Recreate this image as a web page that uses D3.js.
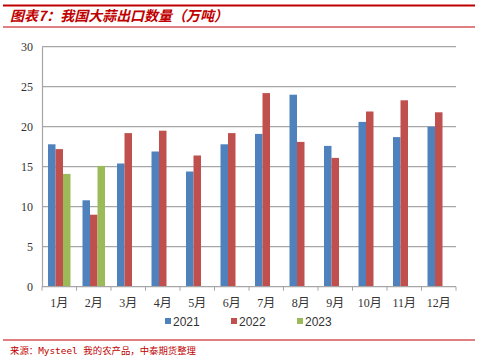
<!DOCTYPE html>
<html><head><meta charset="utf-8">
<script src="https://cdn.jsdelivr.net/npm/d3@7"></script>
<style>body{margin:0;background:#fff}svg{display:block}</style>
</head><body>
<svg id="c" width="486" height="359"></svg>
<script>
const categories = ["1月","2月","3月","4月","5月","6月","7月","8月","9月","10月","11月","12月"];
const seriesNames = ["2021","2022","2023"];
const values2021 = [17.8,10.8,15.4,16.9,14.4,17.8,19.1,24.0,17.6,20.6,18.7,20.0];
const values2022 = [17.2,9.0,19.2,19.5,16.4,19.2,24.2,18.1,16.1,21.9,23.3,21.8];
const values2023 = [14.1,15.1,null,null,null,null,null,null,null,null,null,null];
const yTicks = [0,5,10,15,20,25,30];
const colors = ["#4F81BD","#C0504D","#9BBB59"];
const titleText = "图表7：我国大蒜出口数量（万吨）";
const sourceText = "来源：Mysteel 我的农产品，中泰期货整理";

(function(){
const series = [values2021, values2022, values2023];
const svg = d3.select("#c");
const red = "#C00000";
const serif = "'Liberation Serif','Times New Roman','Noto Sans CJK SC',serif";

svg.append("line").attr("x1",3).attr("x2",475).attr("y1",5.5).attr("y2",5.5).attr("stroke",red).attr("stroke-width",2);
svg.append("line").attr("x1",3).attr("x2",475).attr("y1",27).attr("y2",27).attr("stroke",red).attr("stroke-width",1);
svg.append("text").attr("x",10).attr("y",21).text(titleText)
  .attr("fill",red).attr("font-weight","bold").attr("font-style","italic")
  .attr("font-size",14).attr("font-family","'Noto Sans CJK SC',sans-serif")
  .attr("textLength",218).attr("lengthAdjust","spacingAndGlyphs");

const mLeft = 42, mRight = 456, mTop = 46.7, mBottom = 286.7;
const x = d3.scaleBand().domain(categories).range([mLeft,mRight]).paddingInner(0).paddingOuter(0);
const y = d3.scaleLinear().domain([0,30]).range([mBottom,mTop]);
const xs = d3.scaleBand().domain(seriesNames).range([0,x.bandwidth()]).paddingInner(0).paddingOuter(0.8);

svg.append("g").selectAll("line").data(yTicks.filter(d=>d>0)).join("line")
  .attr("x1",mLeft).attr("x2",mRight).attr("y1",d=>y(d)).attr("y2",d=>y(d))
  .attr("stroke","#A6A6A6").attr("stroke-width",1.2);

series.forEach((vals,si)=>{
  svg.append("g").selectAll("rect").data(vals.map((v,i)=>({v,c:categories[i]})).filter(d=>d.v!=null)).join("rect")
    .attr("x",d=>x(d.c)+xs(seriesNames[si]))
    .attr("width",xs.bandwidth())
    .attr("y",d=>y(d.v))
    .attr("height",d=>mBottom-y(d.v))
    .attr("fill",colors[si]);
});

const yAxis = d3.axisLeft(y).tickValues(yTicks).tickSize(0).tickPadding(9).tickFormat(d3.format("d"));
const gy = svg.append("g").attr("transform",`translate(${mLeft},0)`).call(yAxis);
gy.select(".domain").attr("stroke","#A6A6A6").attr("stroke-width",1.2);
gy.selectAll("text").attr("font-family",serif).attr("font-size",12).attr("fill","#333");

const gx = svg.append("g").attr("transform",`translate(0,${mBottom})`);
gx.append("line").attr("x1",mLeft).attr("x2",mRight).attr("stroke","#A6A6A6").attr("stroke-width",1.2);
const bounds = categories.map(c=>x(c)).concat([mRight]);
gx.selectAll("line.tk").data(bounds).join("line").attr("class","tk")
  .attr("x1",d=>d).attr("x2",d=>d).attr("y1",0).attr("y2",4).attr("stroke","#A6A6A6");
gx.selectAll("text").data(categories).join("text")
  .attr("x",d=>x(d)+x.bandwidth()/2).attr("y",20).attr("text-anchor","middle")
  .attr("font-family",serif).attr("font-size",12).attr("fill","#333").text(d=>d);

const legX = [165,231,297];
seriesNames.forEach((n,i)=>{
  svg.append("rect").attr("x",legX[i]).attr("y",318).attr("width",6).attr("height",6).attr("fill",colors[i]);
  svg.append("text").attr("x",legX[i]+8).attr("y",326).text(n)
    .attr("font-family","'Liberation Sans',Arial,sans-serif").attr("font-size",12).attr("fill","#333");
});

svg.append("line").attr("x1",3).attr("x2",475).attr("y1",340).attr("y2",340).attr("stroke",red).attr("stroke-width",1.2);
svg.append("text").attr("x",10).attr("y",354).text(sourceText)
  .attr("fill",red).attr("font-size",9).attr("font-family","'DejaVu Sans Mono','Noto Sans CJK SC',monospace")
  .attr("textLength",186).attr("lengthAdjust","spacingAndGlyphs");
})();
</script>
</body></html>
